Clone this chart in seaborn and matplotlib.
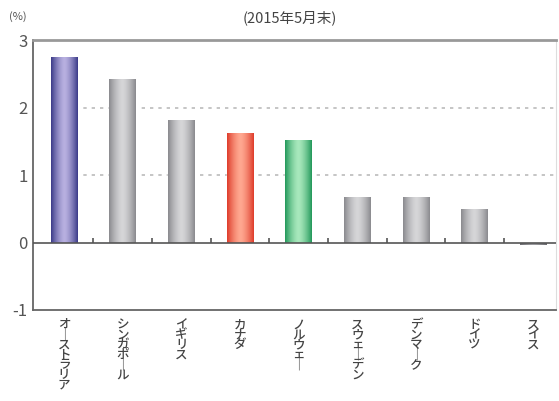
import numpy as np
import pandas as pd
import matplotlib
matplotlib.use("Agg")
import matplotlib.pyplot as plt
import matplotlib.colors as mcolors
import seaborn as sb

countries = ["オーストラリア", "シンガポール", "イギリス", "カナダ", "ノルウェー",
             "スウェーデン", "デンマーク", "ドイツ", "スイス"]
yields = [2.75, 2.43, 1.82, 1.62, 1.52, 0.68, 0.68, 0.50, -0.03]
# (edge, centre) colours for the cylinder-like bars
bar_shades = [("#3a3a88", "#b8b0e0"), ("#8a8a8e", "#d6d6d8"), ("#8a8a8e", "#d6d6d8"),
              ("#de3b2a", "#ffa890"), ("#22985a", "#a8e8bc"), ("#8a8a8e", "#d6d6d8"),
              ("#8a8a8e", "#d6d6d8"), ("#8a8a8e", "#d6d6d8"), ("#6a6a6e", "#9a9a9e")]

sb.set_style("white")
plt.rcParams['font.family'] = ['Noto Sans CJK JP', 'DejaVu Sans']

df = pd.DataFrame({"country": countries, "value": yields})

fig = plt.figure(figsize=(5.59, 4.01), dpi=100)
ax = fig.add_axes([0.059, 0.227, 0.936, 0.673])

sb.barplot(data=df, x="country", y="value", ax=ax, width=0.46,
           palette=[c[0] for c in bar_shades], hue="country", legend=False,
           saturation=1, zorder=3)

# horizontal gradient inside each bar (light centre, darker edges)
grad = np.abs(np.linspace(-1, 1, 256))[None, :] ** 1.5
for patch, (edge, mid) in zip(ax.patches, bar_shades):
    x0, y0 = patch.get_x(), patch.get_y()
    w, h = patch.get_width(), patch.get_height()
    cmap = mcolors.LinearSegmentedColormap.from_list("g", [mid, edge], N=256)
    im = ax.imshow(grad, cmap=cmap, aspect="auto", zorder=4,
                   extent=[x0, x0 + w, min(y0, y0 + h), max(y0, y0 + h)])
    im.set_clip_path(patch)

ax.set_xlim(-0.53, 8.39)
ax.set_ylim(-1, 3)
ax.set_yticks([-1, 0, 1, 2, 3])
ax.set_yticklabels(["-1", "0", "1", "2", "3"], fontsize=12, color="#555555")
ax.tick_params(axis="y", direction="in", length=5, width=1.2, color="#555555", pad=4)

ax.set_xticks(range(len(countries)))
vertical = ["\n".join(c.replace("ー", "｜")) for c in countries]
ax.set_xticklabels(vertical, fontsize=9, color="#444444", va="top",
                   linespacing=0.7, fontweight="medium")
ax.tick_params(axis="x", length=0, pad=6)
ax.set_xlabel("")
ax.set_ylabel("")

for yv in [1, 2]:
    ax.axhline(yv, xmin=0.08, color="#bbbbbb", linestyle=(0, (2, 3)), lw=1.2, zorder=1)
ax.axhline(0, color="#555555", lw=1.2, zorder=5)
ax.vlines(np.arange(len(countries)) + 0.5, 0, 0.06, color="#555555", lw=1.2, zorder=5)

for side in ["left", "bottom"]:
    ax.spines[side].set_color("#666666")
    ax.spines[side].set_linewidth(1.3)
ax.spines["top"].set_color("#999999")
ax.spines["top"].set_linewidth(2)
ax.spines["right"].set_color("#dddddd")
ax.spines["right"].set_linewidth(0.8)

fig.text(0.518, 0.955, "(2015年5月末)", ha="center", va="center", fontsize=10.5, color="#444444")
fig.text(0.032, 0.96, "(%)", ha="center", va="center", fontsize=8, color="#555555")

fig.savefig("out.png", dpi=100)
